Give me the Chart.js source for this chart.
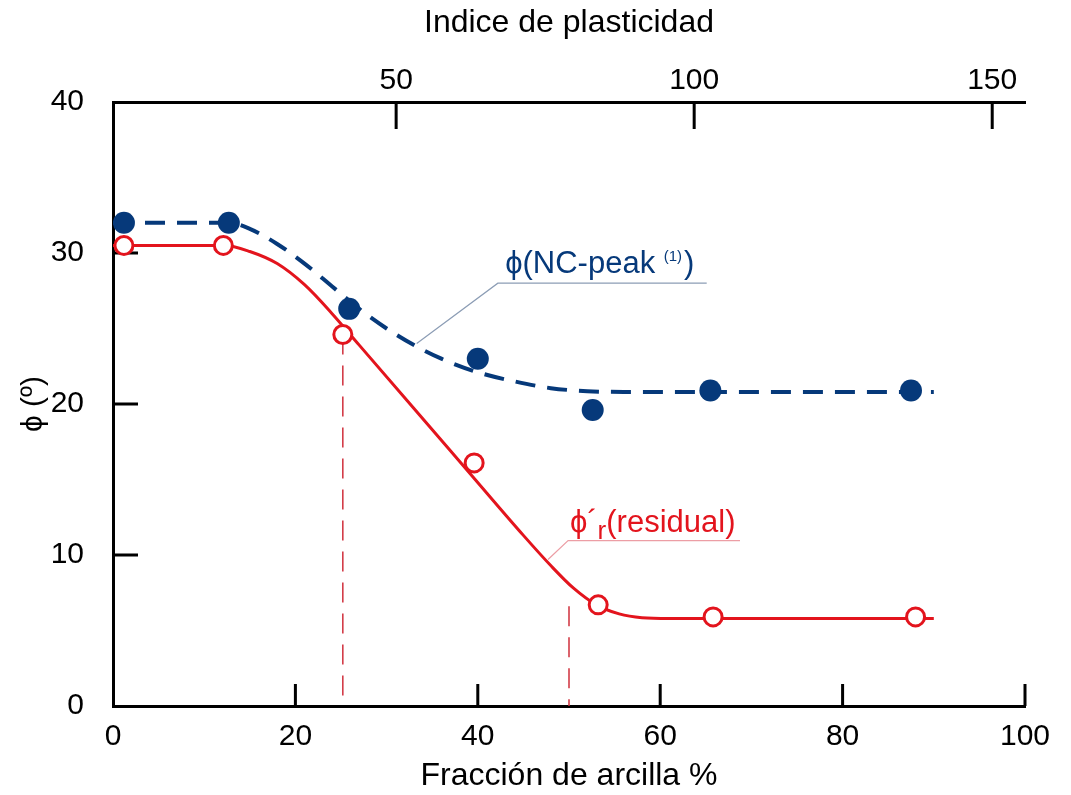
<!DOCTYPE html>
<html>
<head>
<meta charset="utf-8">
<script src="https://cdn.jsdelivr.net/npm/chart.js@4.4.1/dist/chart.umd.min.js"></script>
<style>
  html, body { margin: 0; padding: 0; background: #fff; }
  #wrap { width: 1071px; height: 795px; }
</style>
</head>
<body>
<div id="wrap"><canvas id="chart"></canvas></div>
<script>
// puntos medidos (fracción de arcilla %, ángulo en grados)
const clayPeak = [1.2, 12.7, 25.9, 40.0, 52.6, 65.5, 87.5];
const phiPeak  = [32.0, 32.0, 26.3, 23.0, 19.6, 20.9, 20.9];
const clayRes  = [1.2, 12.1, 25.2, 39.6, 53.2, 65.8, 88.0];
const phiRes   = [30.5, 30.5, 24.6, 16.1, 6.7, 5.9, 5.9];

// curvas ajustadas
const peakCurveX = [0, 12.7, 15, 18, 21, 24, 27, 30, 33, 36, 40, 44, 48, 52, 56, 90];
const peakCurveY = [32.0, 32.0, 31.6, 30.6, 29.3, 27.8, 26.3, 25.0, 23.9, 23.0, 22.1, 21.5, 21.05, 20.85, 20.8, 20.8];
const resCurveX  = [0, 12.2, 15, 18, 21, 24, 27, 33, 39, 45, 48, 50.5, 53, 55.5, 58, 61, 90];
const resCurveY  = [30.5, 30.5, 30.1, 29.3, 27.9, 26.0, 23.9, 19.7, 15.5, 11.3, 9.3, 7.8, 6.7, 6.1, 5.85, 5.8, 5.8];

// líneas verticales de referencia
const markX   = [25.2, 50.0];
const markTop = [24.6, 6.6];

const clayTicks = [0, 20, 40, 60, 80, 100];
const phiTicks  = [0, 10, 20, 30, 40];
const piTicks   = [50, 100, 150];

const navy = '#06397a';
const red = '#e3141d';
const font = "'Liberation Sans', Arial, sans-serif";

const pts = (xs, ys) => xs.map((v, i) => ({ x: v, y: ys[i] }));

// ticks hacia adentro
const innerTicks = {
  id: 'innerTicks',
  beforeDatasetsDraw(chart) {
    const { ctx, chartArea: a, scales: { x, x2, y } } = chart;
    ctx.save();
    ctx.strokeStyle = '#000';
    ctx.lineWidth = 3;
    ctx.beginPath();
    clayTicks.slice(1).forEach(v => {
      const px = x.getPixelForValue(v);
      ctx.moveTo(px, a.bottom); ctx.lineTo(px, a.bottom - 22);
    });
    phiTicks.slice(1, -1).forEach(v => {
      const py = y.getPixelForValue(v);
      ctx.moveTo(a.left, py); ctx.lineTo(a.left + 25, py);
    });
    piTicks.forEach(v => {
      const px = x2.getPixelForValue(v);
      ctx.moveTo(px, a.top); ctx.lineTo(px, a.top + 27);
    });
    ctx.stroke();
    ctx.restore();
  }
};

// etiquetas de las curvas
const notes = {
  id: 'notes',
  afterDatasetsDraw(chart) {
    const { ctx, scales: { x, y } } = chart;
    const X = v => x.getPixelForValue(v), Y = v => y.getPixelForValue(v);
    ctx.save();
    ctx.lineWidth = 1.2;

    ctx.strokeStyle = '#8c9db5';
    ctx.beginPath();
    ctx.moveTo(X(33.3), Y(24.0));
    ctx.lineTo(X(42.2), Y(28.0));
    ctx.lineTo(X(65.1), Y(28.0));
    ctx.stroke();

    ctx.strokeStyle = '#ec9ea5';
    ctx.beginPath();
    ctx.moveTo(X(47.7), Y(9.7));
    ctx.lineTo(X(49.9), Y(10.95));
    ctx.lineTo(X(68.75), Y(10.95));
    ctx.stroke();

    ctx.textBaseline = 'alphabetic';
    ctx.textAlign = 'left';

    let tx = X(43.0), ty = Y(28.7);
    ctx.fillStyle = navy;
    ctx.font = '31px ' + font;
    ctx.fillText('ϕ(NC-peak ', tx, ty);
    tx += ctx.measureText('ϕ(NC-peak ').width;
    ctx.font = '15px ' + font;
    ctx.fillText('(1)', tx, ty - 12);
    tx += ctx.measureText('(1)').width + 2;
    ctx.font = '31px ' + font;
    ctx.fillText(')', tx, ty);

    tx = X(50.1); ty = Y(11.5);
    ctx.fillStyle = red;
    ctx.fillText('ϕ´', tx, ty);
    tx += ctx.measureText('ϕ´').width;
    ctx.font = '26px ' + font;
    ctx.fillText('r', tx, ty + 7);
    tx += ctx.measureText('r').width;
    ctx.font = '31px ' + font;
    ctx.fillText('(residual)', tx, ty);
    ctx.restore();
  }
};

const datasets = [
  {
    data: pts(clayPeak, phiPeak),
    pointRadius: 11, pointHoverRadius: 11,
    pointBackgroundColor: navy, pointBorderColor: navy, pointBorderWidth: 0,
    showLine: false
  },
  {
    data: pts(clayRes, phiRes),
    pointRadius: 9, pointHoverRadius: 9,
    pointBackgroundColor: '#fff', pointBorderColor: red, pointBorderWidth: 3,
    showLine: false
  },
  {
    data: pts(peakCurveX, peakCurveY),
    showLine: true, pointRadius: 0,
    borderColor: navy, borderWidth: 4, borderDash: [20, 12],
    cubicInterpolationMode: 'monotone'
  },
  {
    data: pts(resCurveX, resCurveY),
    showLine: true, pointRadius: 0,
    borderColor: red, borderWidth: 3,
    cubicInterpolationMode: 'monotone'
  }
];
markX.forEach((v, i) => datasets.push({
  data: [{ x: v, y: markTop[i] }, { x: v, y: 0 }],
  showLine: true, pointRadius: 0,
  borderColor: '#d0303c', borderWidth: 1.5, borderDash: [20, 11]
}));

new Chart(document.getElementById('chart'), {
  type: 'scatter',
  data: { datasets },
  plugins: [innerTicks, notes],
  options: {
    responsive: true,
    maintainAspectRatio: false,
    animation: false,
    layout: { padding: { left: 0, right: 46, top: 0, bottom: 0 } },
    plugins: { legend: { display: false }, tooltip: { enabled: false } },
    scales: {
      x: {
        type: 'linear', position: 'bottom', min: 0, max: 100,
        afterBuildTicks: s => { s.ticks = clayTicks.map(v => ({ value: v })); },
        afterFit: s => { s.height = 89; },
        grid: { display: false },
        border: { display: true, color: '#000', width: 3 },
        ticks: { color: '#000', padding: 5, maxRotation: 0, font: { family: font, size: 30 } },
        title: {
          display: true, text: 'Fracción de arcilla %', color: '#000',
          padding: { top: 0, bottom: 0 }, font: { family: font, size: 32 }
        }
      },
      x2: {
        type: 'linear', position: 'top', min: 2.5, max: 155.5,
        afterBuildTicks: s => { s.ticks = piTicks.map(v => ({ value: v })); },
        afterFit: s => { s.height = 102; },
        grid: { display: false },
        border: { display: true, color: '#000', width: 3 },
        ticks: { color: '#000', padding: -5, maxRotation: 0, font: { family: font, size: 30 } },
        title: {
          display: true, text: 'Indice de plasticidad', color: '#000',
          padding: { top: 4, bottom: 0 }, font: { family: font, size: 32 }
        }
      },
      y: {
        type: 'linear', position: 'left', min: 0, max: 40,
        afterBuildTicks: s => { s.ticks = phiTicks.map(v => ({ value: v })); },
        afterFit: s => { s.width = 113; },
        grid: { display: false },
        border: { display: true, color: '#000', width: 3 },
        ticks: { color: '#000', padding: 21, font: { family: font, size: 30 } },
        title: {
          display: true, text: 'ϕ (º)', color: '#000',
          padding: { top: 16, bottom: 0 }, font: { family: font, size: 30 }
        }
      }
    }
  }
});
</script>
</body>
</html>
